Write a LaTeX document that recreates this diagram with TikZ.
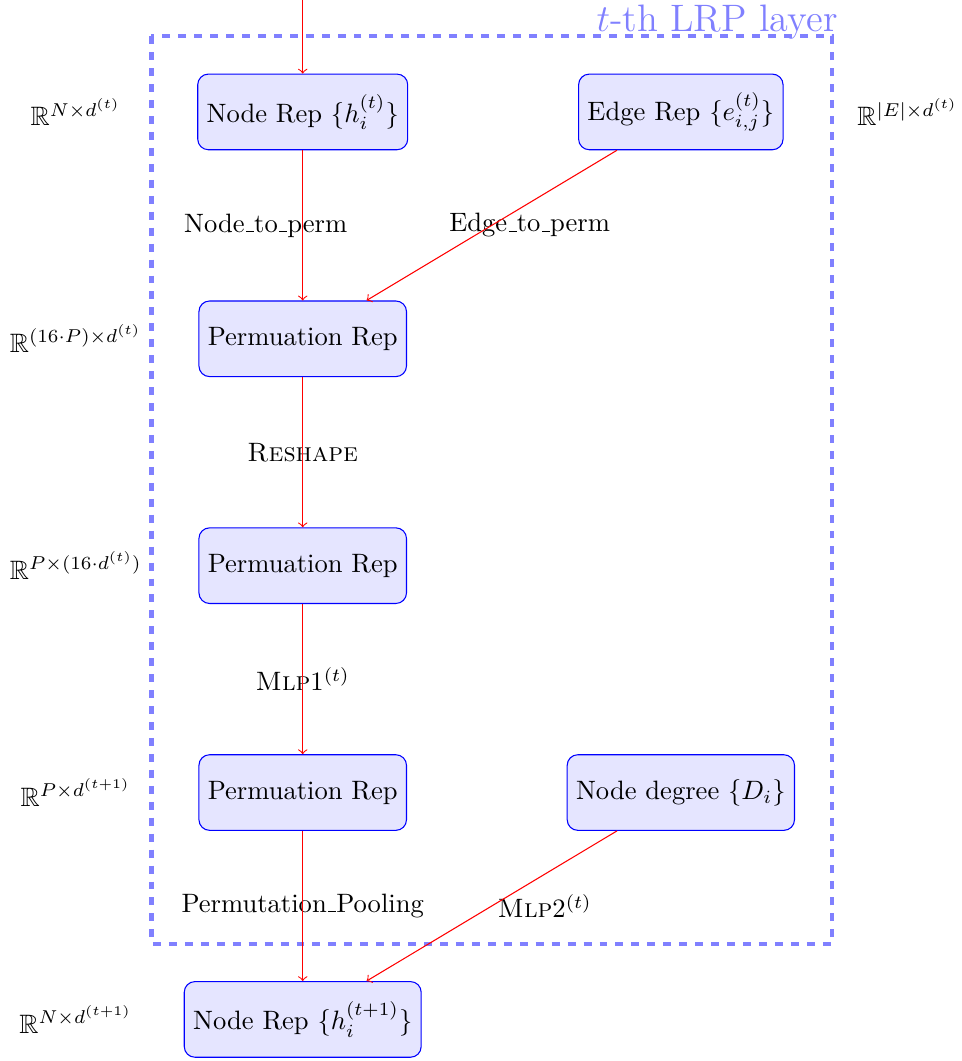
\documentclass[tikz,border=0pt]{standalone}
\usepackage{amssymb}
\newcommand\usc{\leavevmode\kern.06em\vbox{\hrule width.3em}}

\begin{document}
\begin{tikzpicture}[
    rep/.style={draw=blue,fill=blue!10,rounded corners,minimum height=1cm},
    flow/.style={->,red},
    lrpbox/.style={dashed,ultra thick,blue!50}]
  \useasboundingbox (-4.003,1.48) rectangle (8.707,-12.55);
  \draw[lrpbox] (-2,1) rectangle (7,-11);
  \node (lyr) [anchor=base east,inner sep=0,blue!50] at (7.08,1.06) {\Large $t$-th LRP layer};

  \node (nrep) [rep] at (0,0) {Node Rep $\{h_i^{(t)}\}$};
  \node (erep) [rep] at (5,0) {Edge Rep $\{e_{i,j}^{(t)}\}$};
  \node (prepa) [rep] at (0,-3) {Permuation Rep};
  \node (prepb) [rep] at (0,-6) {Permuation Rep};
  \node (prepc) [rep] at (0,-9) {Permuation Rep};
  \node (ndeg) [rep] at (5,-9) {Node degree $\{D_i\}$};
  \node (nout) [rep] at (0,-12) {Node Rep $\{h_i^{(t+1)}\}$};

  \node (dnrep) at (-3,0) {$\mathbb{R}^{N\times d^{(t)}}$};
  \node (derep) at (8,0) {$\mathbb{R}^{|E|\times d^{(t)}}$};
  \node (dprepa) at (-3,-3) {$\mathbb{R}^{(16\cdot P)\times d^{(t)}}$};
  \node (dprepb) at (-3,-6) {$\mathbb{R}^{P\times (16\cdot d^{(t)})}$};
  \node (dprepc) at (-3,-9) {$\mathbb{R}^{P\times d^{(t+1)}}$};
  \node (dnout) at (-3,-12) {$\mathbb{R}^{N\times d^{(t+1)}}$};

  \node (lnp) at (-.49,-1.5) {Node\usc to\usc perm};
  \node (lep) at (3,-1.5) {Edge\usc to\usc perm};
  \node (lrs) at (0,-4.5) {\textsc{Reshape}};
  \node (lmpa) at (0,-7.5) {\textsc{Mlp}1$^{(t)}$};
  \node (lpool) at (0,-10.5) {Permutation\usc Pooling};
  \node (lmpb) at (3.2,-10.5) {\textsc{Mlp}2$^{(t)}$};

  \coordinate (nin) at (0,1.48);
  \draw[flow] (nin) -- (nrep);
  \draw[flow] (nrep) -- (prepa);
  \draw[flow] (erep) -- (prepa);
  \draw[flow] (prepa) -- (prepb);
  \draw[flow] (prepb) -- (prepc);
  \draw[flow] (prepc) -- (nout);
  \draw[flow] (ndeg) -- (nout);
\end{tikzpicture}
\end{document}
